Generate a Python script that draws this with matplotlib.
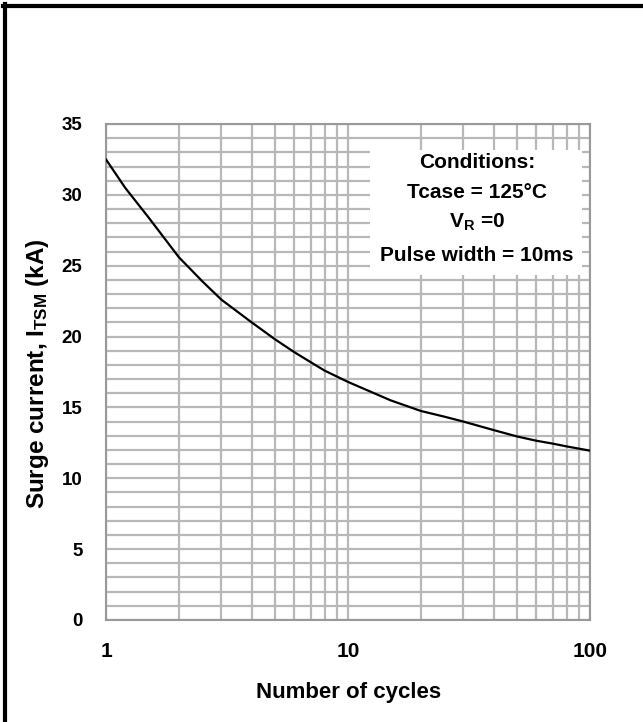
import matplotlib
matplotlib.use("Agg")
import matplotlib.pyplot as plt
from matplotlib.ticker import FixedLocator, NullFormatter, FixedFormatter
from matplotlib.patches import Rectangle
from matplotlib.lines import Line2D

plt.rcParams['font.family'] = ['Liberation Sans', 'DejaVu Sans']
plt.rcParams['mathtext.fontset'] = 'custom'
plt.rcParams['mathtext.rm'] = 'Liberation Sans:bold'
plt.rcParams['mathtext.default'] = 'rm'

# Data
cycles = [1, 1.2, 1.5, 2, 2.5, 3, 4, 5, 6, 7, 8, 10, 15, 20, 25, 30, 40, 50, 60, 70, 80, 100]
surge_kA = [32.5, 30.5, 28.4, 25.6, 23.9, 22.6, 21.0, 19.8, 18.9, 18.2, 17.6, 16.8, 15.5, 14.75,
            14.35, 14.0, 13.4, 12.95, 12.65, 12.45, 12.25, 11.95]

x_major = [1, 10, 100]
x_major_labels = ['1', '10', '100']
y_major = [0, 5, 10, 15, 20, 25, 30, 35]

conditions = ['Conditions:', 'Tcase = 125°C', r'V$_{\mathregular{R}}$ =0', 'Pulse width = 10ms']
xlabel = 'Number of cycles'
ylabel = r'Surge current, I$_{\mathregular{TSM}}$ (kA)'

W, H = 643, 722
fig = plt.figure(figsize=(W / 100, H / 100), dpi=100)
ax = fig.add_axes([106 / W, 1 - 620 / H, 484 / W, 496 / H])

ax.set_xscale('log')
ax.set_xlim(1, 100)
ax.set_ylim(0, 35)

grid_c = '#b8b8b8'
ax.xaxis.set_major_locator(FixedLocator(x_major))
ax.xaxis.set_major_formatter(FixedFormatter(x_major_labels))
ax.xaxis.set_minor_locator(FixedLocator([m * d for d in (1, 10) for m in range(2, 10)]))
ax.xaxis.set_minor_formatter(NullFormatter())
ax.yaxis.set_major_locator(FixedLocator(y_major))
ax.yaxis.set_minor_locator(FixedLocator(list(range(0, 36))))
ax.grid(True, which='both', color=grid_c, linewidth=1.6)
ax.set_axisbelow(True)
ax.tick_params(which='both', length=0)
ax.tick_params(axis='x', pad=16)
ax.tick_params(axis='y', pad=17)
for lab in ax.get_xticklabels():
    lab.set_fontsize(15)
    lab.set_fontweight('bold')
for lab in ax.get_yticklabels():
    lab.set_fontsize(13.5)
    lab.set_fontweight('bold')

for s in ax.spines.values():
    s.set_color('#999999')
    s.set_linewidth(1.5)

ax.plot(cycles, surge_kA, color='black', linewidth=1.6, zorder=4)

# Conditions box
ax.add_patch(Rectangle((0.545, 0.696), 0.438, 0.252, transform=ax.transAxes,
                       facecolor='white', edgecolor='none', zorder=3))
for txt, yy in zip(conditions, [0.922, 0.862, 0.802, 0.735]):
    ax.text(0.767, yy, txt, transform=ax.transAxes, ha='center', va='center',
            fontsize=15, fontweight='bold', zorder=5)

ax.set_xlabel(xlabel, fontsize=16, fontweight='bold')
ax.xaxis.label.set_va('center')
ax.xaxis.set_label_coords(0.502, -0.147)
ax.set_ylabel(ylabel, fontsize=17.5, fontweight='bold')
ax.yaxis.label.set_va('center')
ax.yaxis.set_label_coords(-0.142, 0.496)

# figure border lines (left and top)
fig.add_artist(Line2D([5 / W, 5 / W], [0, 1 - 4 / H], transform=fig.transFigure,
                      color='black', linewidth=3))
fig.add_artist(Line2D([3 / W, 1], [1 - 6 / H, 1 - 6 / H], transform=fig.transFigure,
                      color='black', linewidth=3))

fig.savefig('out.png', dpi=100)
